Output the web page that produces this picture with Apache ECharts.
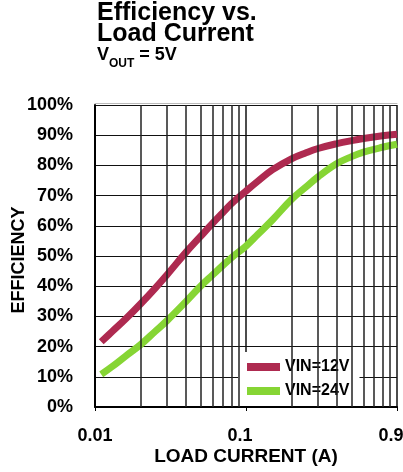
<!DOCTYPE html>
<html>
<head>
<meta charset="utf-8">
<script src="https://cdn.jsdelivr.net/npm/echarts@6/dist/echarts.min.js"></script>
<style>
  html, body { margin: 0; padding: 0; background: #fff; }
  #chart { width: 403px; height: 472px; }
</style>
</head>
<body>
<div id="chart"></div>
<script>
// Load current (A) sample points shared by both curves
const loadCurrent = [0.011, 0.013, 0.016, 0.02, 0.025, 0.03, 0.04, 0.05, 0.06, 0.07, 0.08,
                     0.1, 0.12, 0.15, 0.2, 0.25, 0.3, 0.4, 0.5, 0.6, 0.8, 1.0];
// Efficiency (%) at each load current
const effVin12 = [21.6, 25.0, 29.2, 34.1, 39.3, 43.8, 51.2, 56.5, 60.8, 64.3, 67.3,
                  71.5, 74.8, 78.6, 82.2, 84.2, 85.6, 87.2, 88.2, 88.9, 89.8, 90.3];
const effVin24 = [10.8, 13.4, 16.9, 20.6, 25.0, 28.6, 34.9, 40.0, 43.7, 46.8, 49.4,
                  53.3, 57.2, 62.0, 68.7, 72.9, 76.2, 80.6, 82.9, 84.4, 86.0, 87.0];
const seriesNames = ['VIN=12V', 'VIN=24V'];
const seriesColors = ['#AE2A50', '#86D534'];
// Decade tick labels, keyed by log10 exponent
const xTickLabels = { '-2': '0.01', '-1': '0.1', '0': '0.9' };
// Intermediate log grid lines inside each decade
const minorGridValues = [0.02, 0.03, 0.04, 0.05, 0.06, 0.07, 0.08, 0.09,
                         0.2, 0.3, 0.4, 0.5, 0.6, 0.7, 0.8, 0.9];

const FONT = 'Liberation Sans, Arial, Helvetica, sans-serif';

const toPairs = (ys) => loadCurrent.map((x, i) => [x, ys[i]]);

const chart = echarts.init(document.getElementById('chart'), null, { renderer: 'canvas' });

chart.setOption({
  animation: false,
  backgroundColor: '#fff',
  title: [
    {
      text: 'Efficiency vs.\nLoad Current',
      left: 97, top: 3, padding: 0,
      textStyle: { fontFamily: FONT, fontSize: 25, fontWeight: 'bold', lineHeight: 21, color: '#000' }
    },
    {
      text: '{v|V}{s|OUT}{v| = 5V}',
      left: 97, top: 44, padding: 0,
      textStyle: {
        rich: {
          v: { fontFamily: FONT, fontSize: 18, fontWeight: 'bold', color: '#000', lineHeight: 20, verticalAlign: 'bottom' },
          s: { fontFamily: FONT, fontSize: 12, fontWeight: 'bold', color: '#000', lineHeight: 20, verticalAlign: 'bottom', padding: [0, 0, -6, 0] }
        }
      }
    }
  ],
  legend: {
    data: seriesNames,
    orient: 'vertical',
    left: 238, top: 352,
    padding: [5, 10, 5, 9],
    itemGap: 4,
    itemWidth: 33, itemHeight: 8,
    icon: 'rect',
    backgroundColor: '#fff',
    borderWidth: 0,
    selectedMode: false,
    textStyle: { fontFamily: FONT, fontSize: 16, fontWeight: 'bold', color: '#000', lineHeight: 20 }
  },
  grid: { left: 95, top: 105, right: 6, bottom: 65, containLabel: false, outerBoundsMode: 'none' },
  xAxis: [
    {
      type: 'log', logBase: 10, min: 0.01, max: 1,
      name: 'LOAD CURRENT (A)',
      nameLocation: 'middle', nameGap: 40, nameMoveOverlap: false,
      nameTextStyle: { fontFamily: FONT, fontSize: 19, fontWeight: 'bold', color: '#000' },
      axisLine: { show: true, lineStyle: { color: '#000', width: 2 } },
      axisTick: { show: true, length: 4, lineStyle: { color: '#000', width: 1 } },
      splitLine: { show: true, lineStyle: { color: '#111', width: 1.5 } },
      axisLabel: {
        margin: 20,
        fontFamily: FONT, fontSize: 18, fontWeight: 'bold', color: '#000',
        formatter: (v) => {
          const e = Math.round(Math.log10(v));
          const t = xTickLabels[String(e)] || '';
          return e > -2 ? '{s|' + t + '}' : t;
        },
        rich: { s: { fontFamily: FONT, fontSize: 18, fontWeight: 'bold', color: '#000', padding: [0, 12, 0, 0] } }
      }
    },
    {
      // thin grey rule just above the plot frame
      type: 'log', logBase: 10, min: 0.01, max: 1,
      position: 'top', offset: 2,
      axisLine: { show: true, lineStyle: { color: '#bbb', width: 1 } },
      axisTick: { show: false },
      axisLabel: { show: false },
      splitLine: { show: false }
    }
  ],
  yAxis: {
    type: 'value', min: 0, max: 100, interval: 10,
    name: 'EFFICIENCY',
    nameLocation: 'middle', nameGap: 67, nameMoveOverlap: false,
    nameTextStyle: { fontFamily: FONT, fontSize: 18, fontWeight: 'bold', color: '#000', padding: [0, 8, 0, 0] },
    axisLine: { show: true, lineStyle: { color: '#000', width: 2 } },
    axisTick: { show: false },
    splitLine: { show: true, lineStyle: { color: '#111', width: 1.2 } },
    axisLabel: {
      margin: 22,
      fontFamily: FONT, fontSize: 18, fontWeight: 'bold', color: '#000',
      formatter: '{value}%'
    }
  },
  series: [
    {
      name: 'minorGrid',
      type: 'line',
      data: [],
      z: 1,
      silent: true,
      markLine: {
        silent: true,
        symbol: ['none', 'none'],
        label: { show: false },
        emphasis: { disabled: true },
        lineStyle: { color: '#222', width: 1.5, type: 'solid' },
        data: minorGridValues.map(v => ({ xAxis: v }))
      }
    },
    {
      name: seriesNames[0],
      type: 'line',
      smooth: 0.4,
      showSymbol: false,
      z: 3,
      color: seriesColors[0],
      lineStyle: { color: seriesColors[0], width: 7, cap: 'butt' },
      data: toPairs(effVin12)
    },
    {
      name: seriesNames[1],
      type: 'line',
      smooth: 0.4,
      showSymbol: false,
      z: 3,
      color: seriesColors[1],
      lineStyle: { color: seriesColors[1], width: 7, cap: 'butt' },
      data: toPairs(effVin24)
    }
  ]
});
</script>
</body>
</html>
